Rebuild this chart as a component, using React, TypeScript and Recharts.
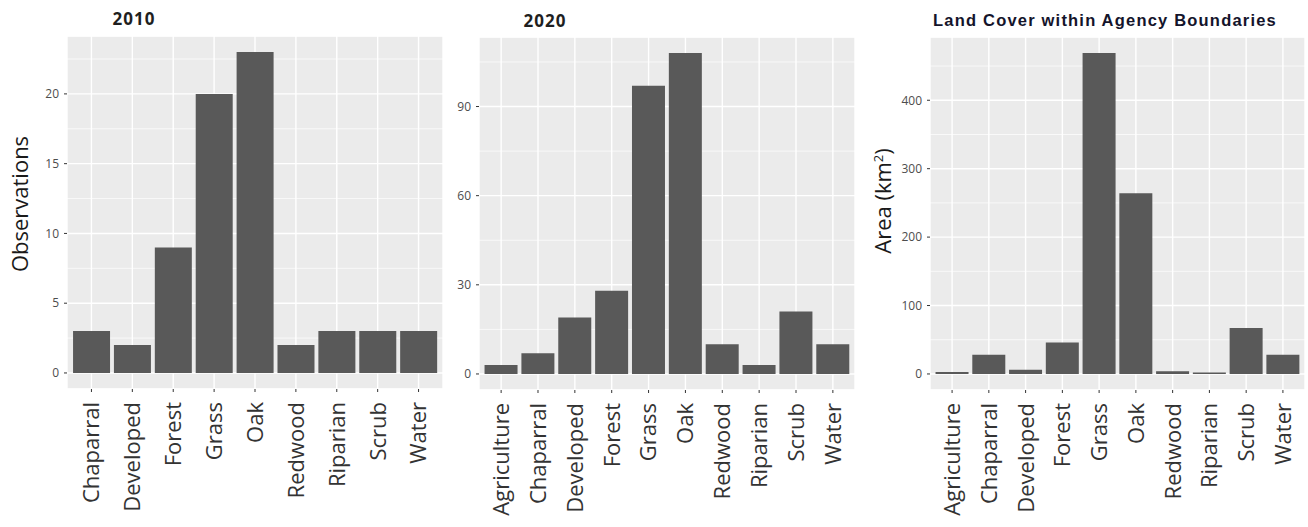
import React from 'react';
import { BarChart, Bar, XAxis, YAxis, CartesianGrid } from 'recharts';

// 2010 observations
const cats2010 = ['Chaparral', 'Developed', 'Forest', 'Grass', 'Oak', 'Redwood', 'Riparian', 'Scrub', 'Water'];
const obs2010 = [3, 2, 9, 20, 23, 2, 3, 3, 3];
const ticks2010 = [0, 5, 10, 15, 20];
const minor2010 = [2.5, 7.5, 12.5, 17.5, 22.5];

// 2020 observations
const cats2020 = ['Agriculture', 'Chaparral', 'Developed', 'Forest', 'Grass', 'Oak', 'Redwood', 'Riparian', 'Scrub', 'Water'];
const obs2020 = [3, 7, 19, 28, 97, 108, 10, 3, 21, 10];
const ticks2020 = [0, 30, 60, 90];
const minor2020 = [15, 45, 75, 105];

// land cover area (km²)
const catsArea = ['Agriculture', 'Chaparral', 'Developed', 'Forest', 'Grass', 'Oak', 'Redwood', 'Riparian', 'Scrub', 'Water'];
const areaKm2 = [3, 28, 6, 46, 469, 264, 4, 2, 67, 28];
const ticksArea = [0, 100, 200, 300, 400];
const minorArea = [50, 150, 250, 350, 450];

const FONT = '"Open Sans", "DejaVu Sans", sans-serif';
const BAR = '#595959';
const PANEL = '#EBEBEB';

const RotatedTick = (props: any) => {
  const { x, y, payload } = props;
  return (
    <text
      x={x}
      y={y}
      transform={`rotate(-90 ${x} ${y})`}
      textAnchor="end"
      dy="0.36em"
      fontSize={22}
      fontFamily={FONT}
      fill="#333333"
    >
      {payload.value}
    </text>
  );
};

interface PanelProps {
  cats: string[];
  values: number[];
  ticks: number[];
  minor: number[];
  domain: [number, number];
  width: number;
  yWidth: number;
  top: number;
  right: number;
  pad: number;
}

const Panel: React.FC<PanelProps> = ({ cats, values, ticks, minor, domain, width, yWidth, top, right, pad }) => {
  const data = cats.map((c, i) => ({ name: c, value: values[i] }));
  return (
    <BarChart
      width={width}
      height={527}
      data={data}
      margin={{ top, right, left: 0, bottom: 0 }}
      barCategoryGap="5%"
    >
      <CartesianGrid yAxisId="minor" vertical={false} stroke="#ffffff" strokeWidth={0.7} fill={PANEL} />
      <CartesianGrid yAxisId="main" stroke="#ffffff" strokeWidth={1.4} />
      <XAxis
        dataKey="name"
        interval={0}
        height={527 - 390 + (top === 36 ? 1 : 0)}
        padding={{ left: pad, right: pad }}
        axisLine={false}
        tickSize={3}
        tickMargin={10}
        tickLine={{ stroke: '#333333' }}
        tick={<RotatedTick />}
      />
      <YAxis
        yAxisId="main"
        type="number"
        domain={domain}
        ticks={ticks}
        allowDataOverflow
        width={yWidth}
        axisLine={false}
        tickSize={3}
        tickMargin={5}
        tickLine={{ stroke: '#333333' }}
        tick={{ fontSize: 12, fill: '#4D4D4D', fontFamily: FONT }}
      />
      <YAxis yAxisId="minor" type="number" domain={domain} ticks={minor} allowDataOverflow hide />
      <Bar yAxisId="main" dataKey="value" fill={BAR} isAnimationActive={false} />
    </BarChart>
  );
};

const abs = (left: number, top: number): React.CSSProperties => ({ position: 'absolute', left, top });

const title = (text: string, cx: number, cy: number, size: number, spacing: number, family: string, color: string) => (
  <div
    style={{
      position: 'absolute',
      left: cx,
      top: cy,
      transform: 'translate(-50%, -50%)',
      whiteSpace: 'nowrap',
      fontFamily: family,
      fontWeight: 700,
      fontSize: size,
      letterSpacing: spacing,
      color,
      lineHeight: 1,
    }}
  >
    {text}
  </div>
);

const axisTitle = (text: React.ReactNode, cx: number, cy: number) => (
  <div
    style={{
      position: 'absolute',
      left: cx,
      top: cy,
      transform: 'translate(-50%, -50%) rotate(-90deg)',
      whiteSpace: 'nowrap',
      fontFamily: FONT,
      fontSize: 22,
      color: '#1a1a1a',
      lineHeight: 1,
    }}
  >
    {text}
  </div>
);

export default function App() {
  return (
    <div style={{ position: 'absolute', left: 0, top: 0, width: 1308, height: 527, background: '#ffffff', overflow: 'hidden' }}>
      <div style={abs(0, 0)}>
        <Panel cats={cats2010} values={obs2010} ticks={ticks2010} minor={minor2010} domain={[-1.15, 24.15]}
          width={450} yWidth={67} top={36} right={7} pad={4} />
      </div>
      <div style={abs(450, 0)}>
        <Panel cats={cats2020} values={obs2020} ticks={ticks2020} minor={minor2020} domain={[-5.4, 113.4]}
          width={410} yWidth={29} top={37} right={5} pad={3.7} />
      </div>
      <div style={abs(860, 0)}>
        <Panel cats={catsArea} values={areaKm2} ticks={ticksArea} minor={minorArea} domain={[-23.45, 492.45]}
          width={448} yWidth={70} top={37} right={3} pad={3.7} />
      </div>

      {title('2010', 134, 18, 17, 1, FONT, '#1f1f1f')}
      {title('2020', 545, 20, 17, 1, FONT, '#1f1f1f')}
      {title('Land Cover within Agency Boundaries', 1105, 20, 16.5, 1.2, '"Liberation Sans", Arial, sans-serif', '#14142b')}

      {axisTitle('Observations', 19, 204)}
      {axisTitle(<span>Area (km<sup style={{ fontSize: 13 }}>2</sup>)</span>, 882, 201)}
    </div>
  );
}
